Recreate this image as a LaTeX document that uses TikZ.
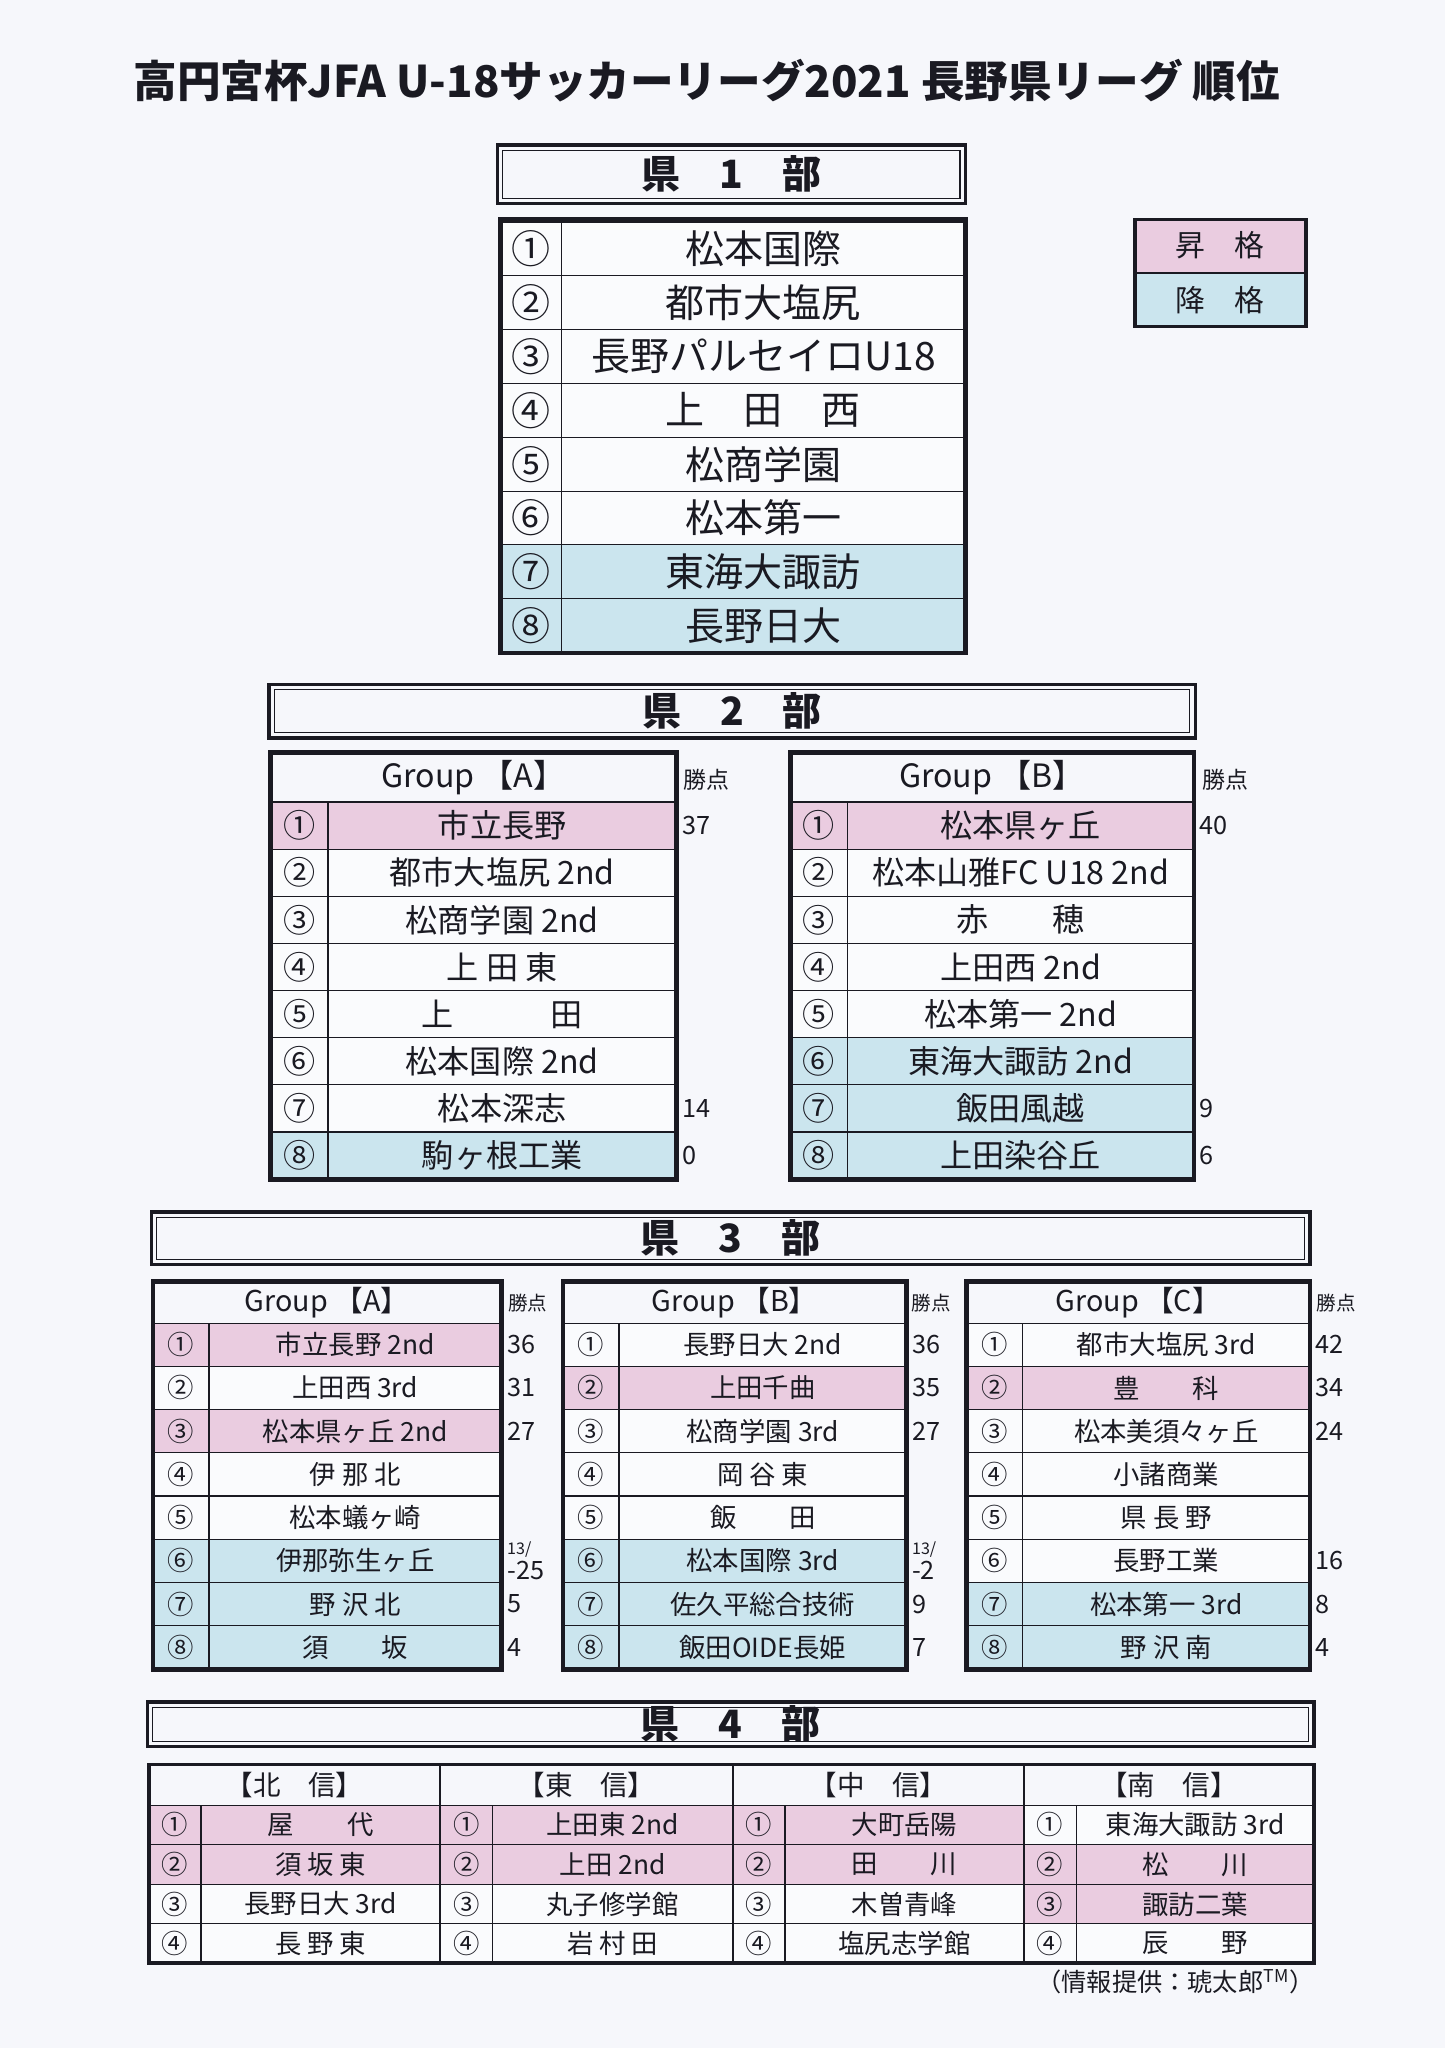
\documentclass[tikz,border=0pt]{standalone}
\usepackage{fontspec}
\setmainfont{Noto Sans CJK JP}
\definecolor{bg}{HTML}{F6F7FB}
\definecolor{pk}{HTML}{EACCE0}
\definecolor{bl}{HTML}{CBE5EE}
\definecolor{wh}{HTML}{FAFBFD}
\definecolor{ink}{HTML}{1A1A22}
\newcommand\cn[1]{\ifcase#1\or ①\or ②\or ③\or ④\or ⑤\or ⑥\or ⑦\or ⑧\fi}
\def\nr{8}
\newcommand\grp[8]{%
 \foreach \n/\c/\p [count=\i] in {#8}{%
   \pgfmathsetmacro\ya{#3+#4+(\i-1)*#5}%
   \fill[\c] (#1,\ya) rectangle (#2,\ya+#5);
   \draw[ink,line width=0.5pt] (#1,\ya) -- (#2,\ya);
   \node[font=\tf,ink] at ({#1+#6/2},\ya+#5/2) {\cn{\i}};
   \node[font=\tf,ink] at ({(#1+#6+#2)/2},\ya+#5/2) {\n};
   \node[font=\pf,ink,anchor=west,inner sep=0pt,align=left] at (#2+4,\ya+#5/2) {\p};
 }
 \draw[ink,line width=0.6pt] ({#1+#6},#3+#4) -- ({#1+#6},{#3+#4+\nr*#5});
 \node[font=\hf,ink] at ({(#1+#2)/2},#3+#4/2) {#7};
}
\newcommand\hdr[5]{%
 \draw[ink,line width=1.4pt] (#1,#3) rectangle (#2,#4);
 \draw[ink,line width=0.5pt] (#1+4,#3+4) rectangle (#2-4,#4-4);
 \node[font=\bfseries\fontsize{17}{17}\selectfont,ink] at ({(#1+#2)/2},{(#3+#4)/2}) {#5};
}
\begin{document}
\begin{tikzpicture}[x=0.02cm,y=-0.02cm]
\useasboundingbox[fill=bg] (0,0) rectangle (1106,1568);
\node[font=\bfseries\fontsize{19}{19}\selectfont,ink] at (541,62) {高円宮杯JFA U-18サッカーリーグ2021 長野県リーグ 順位};
% legend
\fill[pk] (869,168) rectangle (1000,209);
\fill[bl] (869,209) rectangle (1000,250);
\draw[ink,line width=0.5pt] (869,209) -- (1000,209);
\draw[ink,line width=1.6pt] (869,168) rectangle (1000,250);
\node[font=\fontsize{13}{13}\selectfont,ink] at (934,188) {昇　格};
\node[font=\fontsize{13}{13}\selectfont,ink] at (934,230) {降　格};
% div 1
\hdr{381}{739}{111}{156}{県　1　部}
\def\tf{\fontsize{17}{17}\selectfont}\def\pf{\small}\def\hf{\small}
\grp{383}{739}{170}{0}{41.2}{47}{}{松本国際/wh/,都市大塩尻/wh/,長野パルセイロU18/wh/,上　田　西/wh/,松商学園/wh/,松本第一/wh/,東海大諏訪/bl/,長野日大/bl/}
\draw[ink,line width=2pt] (383,168) rectangle (739,500);
% div 2
\hdr{206}{915}{524}{565}{県　2　部}
\def\tf{\fontsize{14}{14}\selectfont}\def\pf{\fontsize{11}{11}\selectfont}\def\hf{\fontsize{14}{14}\selectfont}
\grp{207}{518}{576}{38}{36.1}{44}{Group 【A】}{市立長野/pk/37,都市大塩尻 2nd/wh/,松商学園 2nd/wh/,上 田 東/wh/,上　　　田/wh/,松本国際 2nd/wh/,松本深志/wh/14,駒ヶ根工業/bl/0}
\draw[ink,line width=2pt] (207,576) rectangle (518,903);
\node[font=\fontsize{10}{10}\selectfont,ink] at (541,597) {勝点};
\grp{605}{914}{576}{38}{36.1}{44}{Group 【B】}{松本県ヶ丘/pk/40,松本山雅FC U18 2nd/wh/,赤　　穂/wh/,上田西 2nd/wh/,松本第一 2nd/wh/,東海大諏訪 2nd/bl/,飯田風越/bl/9,上田染谷丘/bl/6}
\draw[ink,line width=2pt] (605,576) rectangle (914,903);
\node[font=\fontsize{10}{10}\selectfont,ink] at (938,597) {勝点};
% div 3
\hdr{116}{1003}{928}{968}{県　3　部}
\def\tf{\fontsize{11.5}{11.5}\selectfont}\def\pf{\fontsize{11}{11}\selectfont}\def\hf{\fontsize{12.5}{12.5}\selectfont}
\grp{117}{384}{981}{32}{33.1}{43}{Group 【A】}{市立長野 2nd/pk/36,上田西 3rd/wh/31,松本県ヶ丘 2nd/pk/27,伊 那 北/wh/,松本蟻ヶ崎/wh/,伊那弥生ヶ丘/bl/{\fontsize{7}{8}\selectfont 13/\\-25},野 沢 北/bl/5,須　　坂/bl/4}
\draw[ink,line width=2pt] (117,981) rectangle (384,1278);
\node[font=\fontsize{8.5}{8.5}\selectfont,ink] at (404,998) {勝点};
\grp{431}{694}{981}{32}{33.1}{43}{Group 【B】}{長野日大 2nd/wh/36,上田千曲/pk/35,松商学園 3rd/wh/27,岡 谷 東/wh/,飯　　田/wh/,松本国際 3rd/bl/{\fontsize{7}{8}\selectfont 13/\\-2},佐久平総合技術/bl/9,飯田OIDE長姫/bl/7}
\draw[ink,line width=2pt] (431,981) rectangle (694,1278);
\node[font=\fontsize{8.5}{8.5}\selectfont,ink] at (713,998) {勝点};
\grp{740}{1003}{981}{32}{33.1}{43}{Group 【C】}{都市大塩尻 3rd/wh/42,豊　　科/pk/34,松本美須々ヶ丘/wh/24,小諸商業/wh/,県 長 野/wh/,長野工業/wh/16,松本第一 3rd/bl/8,野 沢 南/bl/4}
\draw[ink,line width=2pt] (740,981) rectangle (1003,1278);
\node[font=\fontsize{8.5}{8.5}\selectfont,ink] at (1023,998) {勝点};
% div 4
\hdr{113}{1006}{1303}{1337}{県　4　部}
\def\nr{4}
\def\tf{\fontsize{11.5}{11.5}\selectfont}\def\pf{\small}\def\hf{\fontsize{12}{12}\selectfont}
\grp{114}{337}{1351}{31}{30.3}{40}{【北　信】}{屋　　代/pk/,須 坂 東/pk/,長野日大 3rd/wh/,長 野 東/wh/}
\grp{337}{561}{1351}{31}{30.3}{40}{【東　信】}{上田東 2nd/pk/,上田 2nd/pk/,丸子修学館/wh/,岩 村 田/wh/}
\grp{561}{784}{1351}{31}{30.3}{40}{【中　信】}{大町岳陽/pk/,田　　川/pk/,木曽青峰/wh/,塩尻志学館/wh/}
\grp{784}{1006}{1351}{31}{30.3}{40}{【南　信】}{東海大諏訪 3rd/wh/,松　　川/pk/,諏訪二葉/pk/,辰　　野/wh/}
\foreach \x in {337,561,784}{\draw[ink,line width=1pt] (\x,1351) -- (\x,1503);}
\draw[ink,line width=1.6pt] (114,1351) rectangle (1006,1503);
\node[font=\fontsize{11}{11}\selectfont,ink] at (900,1517) {（情報提供：琥太郎\textsuperscript{TM}）};
\end{tikzpicture}
\end{document}
